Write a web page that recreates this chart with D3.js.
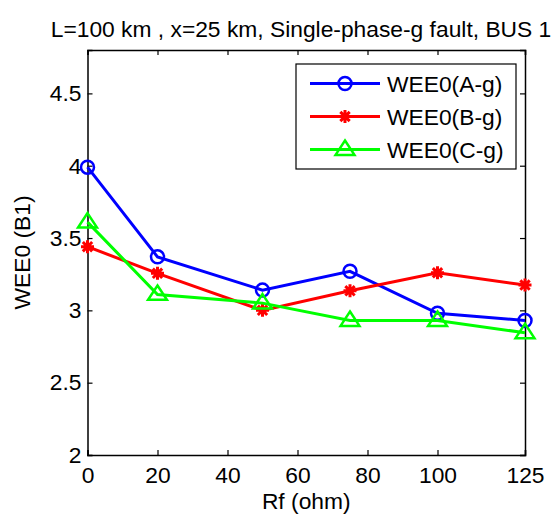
<!DOCTYPE html>
<html>
<head>
<meta charset="utf-8">
<script src="https://cdn.jsdelivr.net/npm/d3@7"></script>
<style>
  body { margin: 0; background: #fff; }
  text { font-family: "Liberation Sans", Arial, sans-serif; fill: #000; }
</style>
</head>
<body>
<script>
const rf = [0, 20, 50, 75, 100, 125];
const weeA = [3.99, 3.37, 3.14, 3.27, 2.98, 2.93];
const weeB = [3.44, 3.256, 3.0, 3.135, 3.26, 3.175];
const weeC = [3.61, 3.11, 3.05, 2.93, 2.93, 2.845];
const seriesNames = ["WEE0(A-g)", "WEE0(B-g)", "WEE0(C-g)"];
const seriesColors = ["#0000ff", "#ff0000", "#00ff00"];
const seriesMarkers = ["circle", "star", "triangle"];
const xTicks = [0, 20, 40, 60, 80, 100, 125];
const yTicks = [2, 2.5, 3, 3.5, 4, 4.5];

const W = 558, H = 515;
const box = { left: 87.5, right: 525, top: 50, bottom: 455 };
const fs = 22.8;

const svg = d3.select("body").append("svg")
    .attr("width", W)
    .attr("height", H);

const x = d3.scaleLinear().domain([0, 125]).range([box.left, box.right]);
const y = d3.scaleLinear().domain([2, 4.8]).range([box.bottom, box.top]);

// axes, ticks pointing inward on every side
const tickLen = 5;
svg.append("g")
    .attr("transform", `translate(0,${box.bottom})`)
    .call(d3.axisBottom(x).tickValues(xTicks).tickSize(-tickLen).tickPadding(12).tickFormat(d3.format("d")));
svg.append("g")
    .attr("transform", `translate(0,${box.top})`)
    .call(d3.axisTop(x).tickValues(xTicks).tickSize(-tickLen).tickFormat(""));
svg.append("g")
    .attr("transform", `translate(${box.left},0)`)
    .call(d3.axisLeft(y).tickValues(yTicks).tickSize(-tickLen).tickPadding(6).tickFormat(d => d));
svg.append("g")
    .attr("transform", `translate(${box.right},0)`)
    .call(d3.axisRight(y).tickValues(yTicks).tickSize(-tickLen).tickFormat(""));

svg.selectAll(".domain").attr("stroke", "#000").attr("stroke-width", 1.5);
svg.selectAll(".tick line").attr("stroke", "#000").attr("stroke-width", 1.2);
svg.selectAll(".tick text")
    .style("font-size", fs + "px")
    .style("font-family", "'Liberation Sans', Arial, sans-serif")
    .attr("fill", "#000");

// markers
const drawMarker = (g, type, color, cx, cy) => {
    if (type === "circle") {
        g.append("circle")
            .attr("cx", cx).attr("cy", cy).attr("r", 6.5)
            .attr("fill", "none").attr("stroke", color).attr("stroke-width", 2.5);
    } else if (type === "triangle") {
        const s = 9;
        g.append("path")
            .attr("d", `M${cx},${cy - s}L${cx + s * 1.05},${cy + s * 0.6}L${cx - s * 1.05},${cy + s * 0.6}Z`)
            .attr("fill", "none").attr("stroke", color).attr("stroke-width", 2.5);
    } else {
        const s = 6.5;
        const d = s * 0.72;
        g.append("path")
            .attr("d", `M${cx - s},${cy}L${cx + s},${cy}M${cx},${cy - s}L${cx},${cy + s}` +
                `M${cx - d},${cy - d}L${cx + d},${cy + d}M${cx - d},${cy + d}L${cx + d},${cy - d}`)
            .attr("fill", "none").attr("stroke", color).attr("stroke-width", 3);
    }
};

const allSeries = [weeA, weeB, weeC];
const line = d3.line().x((d, i) => x(rf[i])).y(d => y(d));

allSeries.forEach((vals, k) => {
    const g = svg.append("g");
    g.append("path")
        .attr("d", line(vals))
        .attr("fill", "none")
        .attr("stroke", seriesColors[k])
        .attr("stroke-width", 3);
    vals.forEach((v, i) => drawMarker(g, seriesMarkers[k], seriesColors[k], x(rf[i]), y(v)));
});

// legend
const leg = svg.append("g");
leg.append("rect")
    .attr("x", 296).attr("y", 64)
    .attr("width", 220).attr("height", 105)
    .attr("fill", "#fff").attr("stroke", "#000").attr("stroke-width", 1.2);
seriesNames.forEach((name, k) => {
    const ly = 83.5 + k * 33;
    leg.append("line")
        .attr("x1", 310).attr("x2", 380)
        .attr("y1", ly).attr("y2", ly)
        .attr("stroke", seriesColors[k]).attr("stroke-width", 3);
    drawMarker(leg, seriesMarkers[k], seriesColors[k], 345, ly);
    leg.append("text")
        .attr("x", 387).attr("y", ly)
        .attr("dy", "0.36em")
        .style("font-size", fs + "px")
        .text(name);
});

// title and axis labels
svg.append("text")
    .attr("x", 301).attr("y", 37)
    .attr("text-anchor", "middle")
    .style("font-size", fs + "px")
    .text("L=100 km , x=25 km, Single-phase-g fault, BUS 1");

svg.append("text")
    .attr("x", (box.left + box.right) / 2).attr("y", 509)
    .attr("text-anchor", "middle")
    .style("font-size", fs + "px")
    .text("Rf (ohm)");

svg.append("text")
    .attr("transform", `translate(30,${(box.top + box.bottom) / 2}) rotate(-90)`)
    .attr("text-anchor", "middle")
    .style("font-size", fs + "px")
    .text("WEE0 (B1)");
</script>
</body>
</html>
